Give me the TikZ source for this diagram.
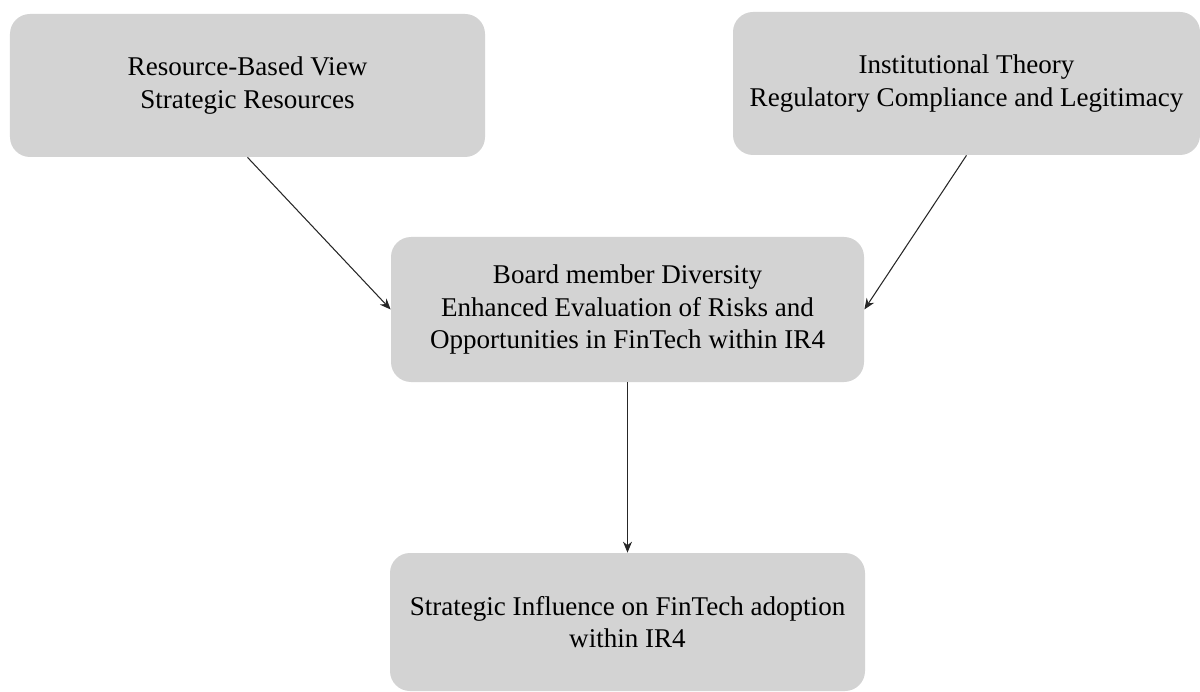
\documentclass[tikz,border=0pt]{standalone}
\usepackage{fontspec}
\setmainfont{Liberation Serif}
\usepackage{tikz}
\usetikzlibrary{shapes,arrows,positioning,calc,arrows.meta}

\begin{document}
\begin{tikzpicture}[auto,
    box/.style={draw=none, fill=boxgray, rounded corners=0.4cm, align=center,
        font=\rmfamily\fontsize{15.4}{18.5}\selectfont, inner sep=0pt},
    link/.style={-{Stealth[length=2.2mm, width=1.8mm]}, line width=0.6pt, black!85}]
    \definecolor{boxgray}{HTML}{D3D3D3}
    \useasboundingbox (0,0) rectangle (24,13.82);

    % Theories
    \node[box, minimum width=9.5cm, minimum height=2.86cm] (RBV) at (4.95,12.11)
        {Resource-Based View\\Strategic Resources};
    \node[box, minimum width=9.34cm, minimum height=2.86cm] (IT) at (19.33,12.15)
        {Institutional Theory\\Regulatory Compliance and Legitimacy};

    % Board diversity
    \node[box, minimum width=9.46cm, minimum height=2.9cm] (BD) at (12.55,7.63)
        {Board member Diversity\\Enhanced Evaluation of Risks and\\Opportunities in FinTech within IR4};

    % Outcome
    \node[box, minimum width=9.5cm, minimum height=2.76cm] (SI) at (12.55,1.38)
        {Strategic Influence on FinTech adoption\\within IR4};

    % Arrows
    \draw[link] (RBV.south) -- (BD.west);
    \draw[link] (IT.south) -- (BD.east);
    \draw[link] (BD.south) -- (SI.north);

\end{tikzpicture}
\end{document}
